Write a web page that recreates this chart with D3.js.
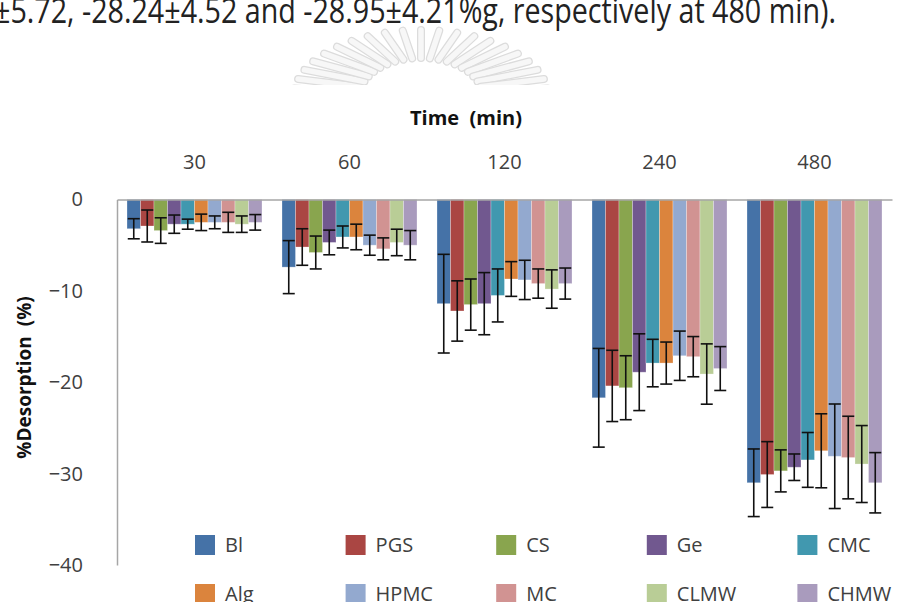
<!DOCTYPE html>
<html>
<head>
<meta charset="utf-8">
<script src="https://cdn.jsdelivr.net/npm/d3@7"></script>
<style>
  html, body { margin: 0; padding: 0; background: #fff; }
  svg { display: block; }
  .tick text { font-family: "Open Sans", "Noto Sans", sans-serif; }
  .title { white-space: pre; }
</style>
</head>
<body>
<svg id="chart" width="898" height="602"></svg>
<script>
// Sampling times (min)
const times = ["30", "60", "120", "240", "480"];

// Formulations
const seriesNames = ["Bl", "PGS", "CS", "Ge", "CMC", "Alg", "HPMC", "MC", "CLMW", "CHMW"];
const seriesColors = ["#4572A7", "#AA4643", "#89A54E", "#71588F", "#4198AF",
                      "#DB843D", "#93A9CF", "#D19392", "#B9CD96", "#A99BBD"];

// Mean %desorption at each time
const Bl   = [-3.2, -7.4, -11.4, -21.7, -31.0];
const PGS  = [-2.9, -5.2, -12.2, -20.4, -30.1];
const CS   = [-3.4, -5.8, -11.5, -20.6, -29.7];
const Ge   = [-2.7, -4.7, -11.4, -18.9, -29.3];
const CMC  = [-2.7, -4.1, -10.5, -17.9, -28.5];
const Alg  = [-2.5, -4.1, -8.7, -17.9, -27.5];
const HPMC = [-2.5, -5.0, -8.8, -17.1, -28.1];
const MC   = [-2.5, -5.4, -9.2, -17.2, -28.24];
const CLMW = [-2.7, -4.7, -9.8, -19.1, -28.95];
const CHMW = [-2.5, -5.0, -9.2, -18.5, -31.0];

// Standard deviations
const BlSD   = [1.1, 2.9, 5.4, 5.4, 3.7];
const PGSSD  = [1.75, 2.0, 3.3, 3.9, 3.6];
const CSSD   = [1.4, 1.8, 2.8, 3.5, 2.3];
const GeSD   = [1.0, 1.35, 3.4, 4.2, 1.45];
const CMCSD  = [0.55, 1.2, 2.9, 2.6, 3.0];
const AlgSD  = [0.9, 1.4, 1.9, 2.3, 4.05];
const HPMCSD = [0.7, 1.1, 2.15, 2.7, 5.72];
const MCSD   = [1.1, 1.2, 1.6, 2.2, 4.52];
const CLMWSD = [0.9, 1.45, 2.1, 3.3, 4.21];
const CHMWSD = [0.85, 1.6, 1.7, 2.4, 3.3];

const yTicks = [0, -10, -20, -30, -40];

const means = [Bl, PGS, CS, Ge, CMC, Alg, HPMC, MC, CLMW, CHMW];
const sds = [BlSD, PGSSD, CSSD, GeSD, CMCSD, AlgSD, HPMCSD, MCSD, CLMWSD, CHMWSD];

const rows = [];
seriesNames.forEach((s, si) => {
  times.forEach((t, ti) => {
    rows.push({ series: s, time: t, value: means[si][ti], sd: sds[si][ti], color: seriesColors[si] });
  });
});

const svg = d3.select("#chart");

// Caption line running off the top edge of the page
svg.append("text")
  .attr("x", -6).attr("y", 23)
  .attr("textLength", 842)
  .attr("lengthAdjust", "spacingAndGlyphs")
  .style("font-family", "'Liberation Sans Narrow', 'Open Sans', sans-serif")
  .style("font-size", "34px")
  .style("fill", "#222")
  .text("±5.72, -28.24±4.52 and -28.95±4.21%g, respectively at 480 min).");

// Faint fan-shaped emblem behind the heading, cut off along its lower edge
svg.append("clipPath").attr("id", "emblemClip")
  .append("rect").attr("x", 250).attr("y", 0).attr("width", 360).attr("height", 85);
const emblem = svg.append("g")
  .attr("clip-path", "url(#emblemClip)")
  .append("g").attr("transform", "translate(421,98)");
d3.range(-172, -7, 8.2).forEach(a => {
  const r = a * Math.PI / 180;
  const c = Math.cos(r), s = Math.sin(r);
  const p0 = [62 * c, 40 * s], p1 = [128 * c, 68 * s];
  emblem.append("line")
    .attr("x1", p0[0]).attr("y1", p0[1]).attr("x2", p1[0]).attr("y2", p1[1])
    .attr("stroke", "#dcdcdc").attr("stroke-width", 8).attr("stroke-linecap", "round");
  emblem.append("line")
    .attr("x1", p0[0]).attr("y1", p0[1]).attr("x2", p1[0]).attr("y2", p1[1])
    .attr("stroke", "#f7f7f7").attr("stroke-width", 5.5).attr("stroke-linecap", "round");
});
emblem.append("path")
  .attr("d", d3.arc()({ innerRadius: 9, outerRadius: 11, startAngle: -Math.PI / 2, endAngle: Math.PI / 2 }))
  .attr("transform", "translate(-8,-2)")
  .attr("fill", "#dedede");

// Scales
const plot = { left: 117, right: 892, top: 199.5, bottom: 565 };
const x0 = d3.scaleBand().domain(times).range([plot.left, plot.right]).padding(0);
const x1 = d3.scaleBand().domain(seriesNames).range([10, x0.bandwidth() - 10]).padding(0);
const y = d3.scaleLinear().domain([0, -40]).range([plot.top, plot.bottom]);

// Y axis
const yAxis = svg.append("g")
  .attr("transform", `translate(${plot.left},0)`)
  .call(d3.axisLeft(y).tickValues(yTicks).tickSize(0).tickPadding(34).tickFormat(d3.format("d")));
yAxis.select(".domain").attr("stroke", "#a6a6a6").attr("stroke-width", 1.5);
yAxis.selectAll(".tick text").style("font-size", "20px").style("fill", "#404040");

// Bars
const groups = svg.append("g").selectAll("g")
  .data(times).join("g")
  .attr("transform", d => `translate(${x0(d)},0)`);

groups.selectAll("rect")
  .data(t => rows.filter(r => r.time === t))
  .join("rect")
  .attr("x", d => x1(d.series))
  .attr("y", y(0))
  .attr("width", x1.bandwidth())
  .attr("height", d => y(d.value) - y(0))
  .attr("fill", d => d.color)
  .attr("stroke", "rgba(255,255,255,0.35)")
  .attr("stroke-width", 0.8);

// Error bars
const cap = 6;
const eb = groups.selectAll("g.err")
  .data(t => rows.filter(r => r.time === t))
  .join("g").attr("class", "err")
  .attr("stroke", "#111").attr("stroke-width", 1.6);
eb.append("line")
  .attr("x1", d => x1(d.series) + x1.bandwidth() / 2)
  .attr("x2", d => x1(d.series) + x1.bandwidth() / 2)
  .attr("y1", d => y(d.value + d.sd))
  .attr("y2", d => y(d.value - d.sd));
eb.append("line")
  .attr("x1", d => x1(d.series) + x1.bandwidth() / 2 - cap)
  .attr("x2", d => x1(d.series) + x1.bandwidth() / 2 + cap)
  .attr("y1", d => y(d.value + d.sd))
  .attr("y2", d => y(d.value + d.sd));
eb.append("line")
  .attr("x1", d => x1(d.series) + x1.bandwidth() / 2 - cap)
  .attr("x2", d => x1(d.series) + x1.bandwidth() / 2 + cap)
  .attr("y1", d => y(d.value - d.sd))
  .attr("y2", d => y(d.value - d.sd));

// Category axis along zero, labels on top
const xAxis = svg.append("g")
  .attr("transform", `translate(0,${y(0)})`)
  .call(d3.axisTop(x0).tickSize(0).tickPadding(31));
xAxis.select(".domain").attr("stroke", "#a6a6a6").attr("stroke-width", 1.5);
xAxis.selectAll(".tick text").style("font-size", "20px").style("fill", "#404040");

// Axis titles
svg.append("text")
  .attr("class", "title")
  .attr("x", 466).attr("y", 125)
  .attr("text-anchor", "middle")
  .style("font-family", "'Open Sans', 'Noto Sans', sans-serif")
  .style("font-weight", "bold").style("font-size", "20px").style("fill", "#111")
  .text("Time  (min)");

svg.append("text")
  .attr("class", "title")
  .attr("transform", "translate(31,377.5) rotate(-90)")
  .attr("text-anchor", "middle")
  .style("font-family", "'Open Sans', 'Noto Sans', sans-serif")
  .style("font-weight", "bold").style("font-size", "19px").style("fill", "#111")
  .text("%Desorption  (%)");

// Legend: two rows of five
const legend = svg.append("g").selectAll("g")
  .data(seriesNames).join("g")
  .attr("transform", (d, i) => `translate(${195 + (i % 5) * 150.6},${535 + Math.floor(i / 5) * 49})`);
legend.append("rect")
  .attr("width", 20).attr("height", 20)
  .attr("fill", (d, i) => seriesColors[i]);
legend.append("text")
  .attr("x", 30).attr("y", 17)
  .style("font-family", "'Open Sans', 'Noto Sans', sans-serif")
  .style("font-size", "20px").style("fill", "#404040")
  .text(d => d);
</script>
</body>
</html>
